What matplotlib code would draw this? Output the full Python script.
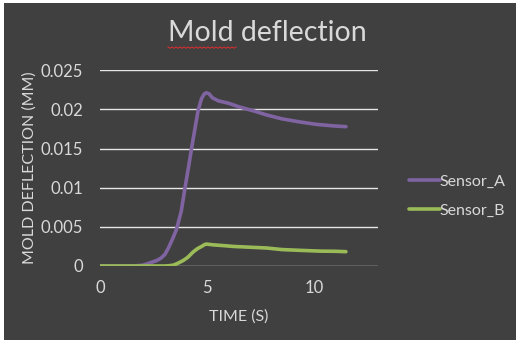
import numpy as np
import matplotlib
matplotlib.use("Agg")
import matplotlib.pyplot as plt
from matplotlib.patches import Rectangle
from matplotlib.lines import Line2D

# Time samples (s) and deflection readings (mm)
time_a = [0, 1.0, 1.56, 2.0, 2.34, 2.65, 2.85, 3.04, 3.2, 3.4, 3.58, 3.8, 3.97, 4.15,
          4.28, 4.45, 4.59, 4.75, 4.88, 4.98, 5.1, 5.25, 5.53, 6.0, 6.54, 7.2, 7.79,
          8.5, 9.35, 10.1, 10.9, 11.5]
sensor_a = [0, 0, 0.00001, 0.0001, 0.0004, 0.0007, 0.001, 0.0015, 0.0023, 0.0035,
            0.0047, 0.0070, 0.0099, 0.0128, 0.0150, 0.0177, 0.0199, 0.0214, 0.0220,
            0.02213, 0.0220, 0.0215, 0.0211, 0.0208, 0.0203, 0.0198, 0.0193, 0.0188,
            0.0184, 0.0181, 0.0179, 0.0178]

time_b = [0, 1.5, 2.5, 3.0, 3.2, 3.43, 3.6, 3.75, 3.9, 4.1, 4.36, 4.55, 4.75, 4.9,
          4.98, 5.3, 5.8, 6.23, 7.0, 7.79, 8.5, 9.35, 10.3, 11.0, 11.5]
sensor_b = [0, 0, 0, 0, 0.00003, 0.00011, 0.0003, 0.0005, 0.00072, 0.0011, 0.0018,
            0.0022, 0.0025, 0.00275, 0.0028, 0.0027, 0.0026, 0.0025, 0.0024, 0.0023,
            0.0021, 0.0020, 0.0019, 0.00188, 0.00183]

series_names = ["Sensor_A", "Sensor_B"]
x_ticks = [0, 5, 10]
y_ticks = [0, 0.005, 0.01, 0.015, 0.02, 0.025]
y_tick_labels = ["0", "0.005", "0.01", "0.015", "0.02", "0.025"]

BG = "#404040"
TXT = "#D9D9D9"
PURPLE = "#8064A2"
GREEN = "#9BBB59"

plt.rcParams["font.family"] = ["Lato", "DejaVu Sans"]

W, H = 520, 346
fig = plt.figure(figsize=(W / 100, H / 100), dpi=100, facecolor="white")

# Dark chart area inside a thin white margin
fig.patches.append(Rectangle((4 / W, 1 - 340 / H), (516 - 4) / W, (340 - 3) / H,
                             transform=fig.transFigure, facecolor=BG,
                             edgecolor="none", zorder=-5))

ax = fig.add_axes([100 / W, 1 - 266 / H, (378 - 100) / W, (266 - 70.3) / H])
ax.set_zorder(2)
ax.set_facecolor("none")
ax.set_xlim(0, 13)
ax.set_ylim(0, 0.025)

for s in ax.spines.values():
    s.set_visible(False)

ax.set_yticks(y_ticks)
ax.set_yticklabels(y_tick_labels)
ax.set_xticks(x_ticks)
ax.tick_params(axis="both", length=0, colors=TXT, labelsize=12)
ax.tick_params(axis="y", pad=12)
ax.tick_params(axis="x", pad=10)
ax.grid(axis="y", color="#E6E6E6", linewidth=1.0)
ax.set_axisbelow(True)

ax.plot(time_a, sensor_a, color=PURPLE, linewidth=2.6, solid_capstyle="round",
        solid_joinstyle="round", label=series_names[0])
ax.plot(time_b, sensor_b, color=GREEN, linewidth=2.6, solid_capstyle="round",
        solid_joinstyle="round", label=series_names[1])

ax.set_xlabel("TIME (S)", color=TXT, fontsize=11.5, labelpad=10)
ax.set_ylabel("MOLD DEFLECTION (MM)", color=TXT, fontsize=11.5, labelpad=3)

fig.text(267 / W, 1 - 33 / H, "Mold deflection", color=TXT, fontsize=20.5,
         ha="center", va="center", zorder=3)

# Spell-check style squiggle under the first word
sx = np.linspace(168, 236, 35)
sy = 47 + np.where(np.arange(sx.size) % 2 == 0, 0.0, 1.2)
fig.lines.append(Line2D(sx / W, 1 - sy / H, transform=fig.transFigure,
                        color="#D03030", linewidth=0.8, zorder=3))

leg = fig.legend(handles=ax.get_lines(), labels=series_names,
                 loc="center left", bbox_to_anchor=(395 / W, 1 - 196 / H),
                 frameon=False, fontsize=11.5, handlelength=1.9,
                 handletextpad=0.0, labelspacing=0.95, labelcolor=TXT)
leg.set_zorder(3)

fig.savefig("out.png", dpi=100, facecolor="white")
